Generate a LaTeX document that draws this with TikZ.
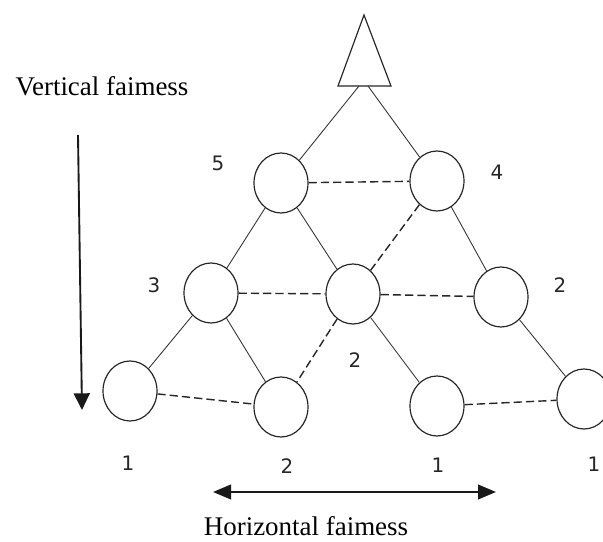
\documentclass[tikz,border=0pt]{standalone}
\usepackage{fontspec}
\setmainfont{Liberation Serif}
\newfontfamily\numfont{DejaVu Sans}
\usetikzlibrary{arrows.meta,shapes.geometric}

\begin{document}
\begin{tikzpicture}[x=0.03cm,y=-0.03cm, every node/.style={inner sep=0pt},
  peer/.style={ellipse,draw=black!85,line width=1pt,minimum width=1.62cm,minimum height=1.8cm},
  link/.style={draw=black!80,line width=0.75pt},
  fair/.style={draw=black!85,line width=1.2pt,dash pattern=on 7pt off 3.5pt},
  rank/.style={font=\numfont\fontsize{17}{20}\selectfont,text=black!85},
  axis/.style={draw=black!90,line width=1.6pt},
  caption/.style={font=\fontsize{23}{27}\selectfont}]
  \useasboundingbox (0,0) rectangle (603,542);
  % source on top
  \draw[draw=black!85,line width=1pt] (364,15) -- (391,86) -- (338,86) -- cycle;
  \coordinate (srcl) at (359,86);
  \coordinate (srcr) at (368,86);
  % peers, level by level
  \node[peer] (a5) at (281,183) {};
  \node[peer] (a4) at (437,181) {};
  \node[peer] (b3) at (211,293) {};
  \node[peer] (bm) at (353,294) {};
  \node[peer] (b2) at (501,297) {};
  \node[peer] (c1) at (130,391) {};
  \node[peer] (c2) at (281,407) {};
  \node[peer] (c3) at (437,406) {};
  \node[peer] (c4) at (584,399) {};
  % tree links
  \draw[link] (srcl) -- (a5);
  \draw[link] (srcr) -- (a4);
  \draw[link] (a5) -- (b3);
  \draw[link] (a5) -- (bm);
  \draw[link] (a4) -- (b2);
  \draw[link] (b3) -- (c1);
  \draw[link] (b3) -- (c2);
  \draw[link] (bm) -- (c3);
  \draw[link] (b2) -- (c4);
  % fairness links
  \draw[fair] (a5) -- (a4);
  \draw[fair] (b3) -- (bm);
  \draw[fair] (bm) -- (b2);
  \draw[fair] (a4) -- (bm);
  \draw[fair] (bm) -- (c2);
  \draw[fair] (c1) -- (c2);
  \draw[fair] (c3) -- (c4);
  % ranks
  \node[rank] (r5) at (218,163) {5};
  \node[rank] (r4) at (497,172) {4};
  \node[rank] (r3) at (154,285) {3};
  \node[rank] (r2a) at (560,285) {2};
  \node[rank] (r2b) at (355,360) {2};
  \node[rank] (r1a) at (128,463) {1};
  \node[rank] (r2c) at (287,466) {2};
  \node[rank] (r1b) at (438,465) {1};
  \node[rank] (r1c) at (594,464) {1};
  % axes
  \coordinate (vtop) at (78,135);
  \coordinate (vbot) at (82,410);
  \coordinate (hlft) at (213,492);
  \coordinate (hrgt) at (496,492);
  \draw[axis,-{Triangle[length=5mm,width=4.8mm]}] (vtop) -- (vbot);
  \draw[axis,{Triangle[length=5.4mm,width=4.4mm]}-{Triangle[length=5.4mm,width=4.4mm]}] (hlft) -- (hrgt);
  \node[caption] (vcap) at (102,86) {Vertical faimess};
  \node[caption] (hcap) at (306,526) {Horizontal faimess};
\end{tikzpicture}
\end{document}
